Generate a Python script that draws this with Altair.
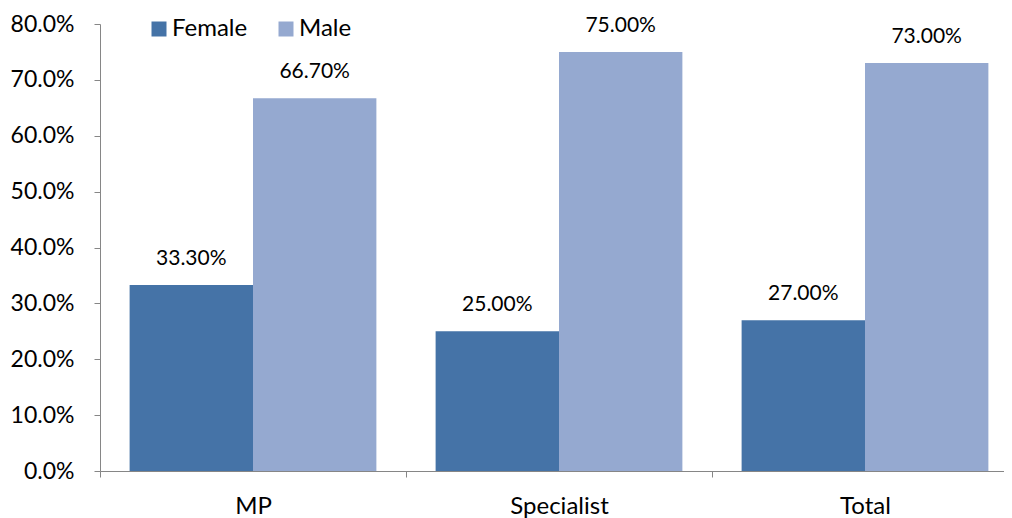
import altair as alt
import pandas as pd

categories = ["MP", "Specialist", "Total"]
female = [0.333, 0.25, 0.27]
male = [0.667, 0.75, 0.73]

rows = []
for c, f, m in zip(categories, female, male):
    rows.append({"cat": c, "gender": "Female", "value": f})
    rows.append({"cat": c, "gender": "Male", "value": m})
df = pd.DataFrame(rows)

FONT = "Lato"
GRAY = "#868686"

x = alt.X("cat:N", sort=categories, title=None,
          scale=alt.Scale(paddingInner=0, paddingOuter=0),
          axis=alt.Axis(labelAngle=0, labelFontSize=24, labelFont=FONT, labelColor="#000000",
                        domainColor=GRAY, tickColor=GRAY, tickSize=6, tickBand="extent",
                        labelPadding=17))
xo = alt.XOffset("gender:N", sort=["Female", "Male"], scale=alt.Scale(paddingOuter=0.24, paddingInner=0))
y = alt.Y("value:Q", title=None,
          scale=alt.Scale(domain=[0, 0.8], nice=False),
          axis=alt.Axis(format=".1%", values=[i / 10 for i in range(9)], grid=False,
                        labelFontSize=23, labelFont=FONT, labelColor="#000000",
                        domainColor=GRAY, tickColor=GRAY, tickSize=6, labelPadding=20))

bars = alt.Chart(df).mark_bar().encode(
    x=x, xOffset=xo, y=y,
    color=alt.Color("gender:N", sort=["Female", "Male"],
                    scale=alt.Scale(domain=["Female", "Male"], range=["#4573A7", "#95A9D0"]),
                    legend=alt.Legend(title=None, orient="none", direction="horizontal",
                                      legendX=47, legendY=-7, symbolType="square",
                                      symbolSize=225, symbolStrokeWidth=0,
                                      labelFontSize=24, labelFont=FONT, labelColor="#000000",
                                      labelOffset=1, columnPadding=26)),
)

labels = alt.Chart(df).mark_text(font=FONT, fontSize=21, baseline="alphabetic", dy=-20, color="#000000").encode(
    x=x, xOffset=xo, y=y,
    text=alt.Text("value:Q", format=".2%"),
)

chart = (bars + labels).properties(
    width=918, height=447,
    padding={"left": 92, "top": 16, "right": -14, "bottom": 47},
    autosize=alt.AutoSizeParams(type="none"),
).configure_view(stroke=None).configure_axis(labelFont=FONT)

chart.save("out.html", embed_options={"renderer": "svg", "actions": False})
